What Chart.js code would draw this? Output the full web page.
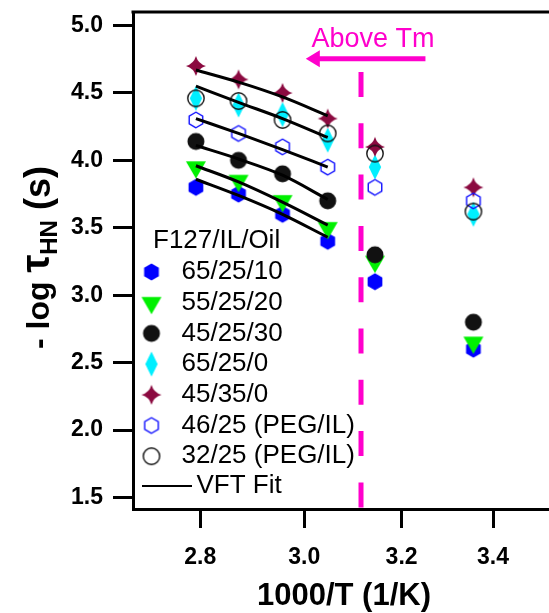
<!DOCTYPE html>
<html>
<head>
<meta charset="utf-8">
<script src="https://cdn.jsdelivr.net/npm/chart.js@4.4.1/dist/chart.umd.min.js"></script>
<style>
  html, body { margin: 0; padding: 0; background: #fff; overflow: hidden; }
  canvas { display: block; }
</style>
</head>
<body>
<canvas id="c" width="560" height="613"></canvas>
<script>
// 1000/T values (1/K) of the measured temperatures
const xVals = [2.792, 2.872, 2.957, 3.047, 3.144, 3.356];
// -log tau_HN (s) per sample
const s65_25_10 = [3.80, 3.75, 3.60, 3.40, 3.10, 2.60];
const s55_25_20 = [3.95, 3.85, 3.70, 3.50, 3.25, 2.65];
const s45_25_30 = [4.14, 4.00, 3.90, 3.70, 3.30, 2.80];
const s65_25_0  = [4.46, 4.41, 4.34, 4.15, 3.95, 3.60];
const s45_35_0  = [4.70, 4.60, 4.50, 4.31, 4.10, 3.80];
const s46_25peg = [4.30, 4.20, 4.10, 3.95, 3.80, 3.70];
const s32_25peg = [4.46, 4.44, 4.30, 4.20, 4.05, 3.62];

// VFT fit curves, read at the first four temperatures
const fitX = [2.792, 2.872, 2.957, 3.047];
const fitStar  = [4.67, 4.58, 4.47, 4.33];
const fitCirc  = [4.55, 4.43, 4.31, 4.17];
const fitHexO  = [4.31, 4.20, 4.08, 3.95];
const fitBlack = [4.11, 4.01, 3.89, 3.71];
const fitTri   = [3.96, 3.84, 3.69, 3.52];
const fitHex   = [3.86, 3.74, 3.60, 3.43];

// melting line and annotation
const tmX = [3.115, 3.115];
const tmY = [4.655, 1.415];
const arrowX = [3.251, 3.003];
const arrowY = 4.753;
const noteX = 3.14, noteY = 4.893;

const xTicks = [2.8, 3.0, 3.2, 3.4];
const yTicks = [1.5, 2.0, 2.5, 3.0, 3.5, 4.0, 4.5, 5.0];

const legendTitle = 'F127/IL/Oil';
const legendLabels = ['65/25/10', '55/25/20', '45/25/30', '65/25/0', '45/35/0', '46/25 (PEG/IL)', '32/25 (PEG/IL)'];

const MAG = '#ff00cc';
const FONT = "'Liberation Sans', Arial, sans-serif";

function marker(w, h, draw) {
  const c = document.createElement('canvas');
  c.width = w; c.height = h;
  const g = c.getContext('2d');
  g.translate(w / 2, h / 2);
  draw(g);
  return c;
}
function hexPath(g, r) {
  g.beginPath();
  for (let i = 0; i < 6; i++) {
    const a = Math.PI / 2 + i * Math.PI / 3;
    g.lineTo(r * Math.cos(a), r * Math.sin(a));
  }
  g.closePath();
}
const mHex = marker(20, 20, g => { hexPath(g, 8.5); g.fillStyle = '#0000ff'; g.fill(); });
const mHexO = marker(20, 20, g => { hexPath(g, 7.8); g.strokeStyle = '#1010ff'; g.lineWidth = 1.4; g.stroke(); });
const mTri = marker(24, 30, g => {
  const s = 20, h = s * Math.sqrt(3) / 2;
  g.beginPath(); g.moveTo(-s / 2, -h / 3); g.lineTo(s / 2, -h / 3); g.lineTo(0, 2 * h / 3); g.closePath();
  g.fillStyle = '#00f000'; g.fill();
});
const mDot = marker(20, 20, g => { g.beginPath(); g.arc(0, 0, 8.5, 0, Math.PI * 2); g.fillStyle = '#111'; g.fill(); });
const mDotO = marker(20, 20, g => { g.beginPath(); g.arc(0, 0, 8.2, 0, Math.PI * 2); g.strokeStyle = '#111'; g.lineWidth = 1.4; g.stroke(); });
const mDia = marker(16, 28, g => {
  g.beginPath(); g.moveTo(0, -12.5); g.lineTo(6.2, 0); g.lineTo(0, 12.5); g.lineTo(-6.2, 0); g.closePath();
  g.fillStyle = '#00efff'; g.fill();
});
const mStar = marker(24, 24, g => {
  const R = 10, c = 2.2;
  g.beginPath();
  g.moveTo(0, -R);
  g.quadraticCurveTo(c, -c, R, 0);
  g.quadraticCurveTo(c, c, 0, R);
  g.quadraticCurveTo(-c, c, -R, 0);
  g.quadraticCurveTo(-c, -c, 0, -R);
  g.closePath(); g.fillStyle = '#8b0a40'; g.fill();
});
const legendMarkers = [mHex, mTri, mDot, mDia, mStar, mHexO, mDotO];

function pts(xs, ys) { return xs.map((x, i) => ({ x: x, y: ys[i] })); }
function fit(ys) {
  return { data: pts(fitX, ys), showLine: true, borderColor: '#000', borderWidth: 3,
           pointRadius: 0, cubicInterpolationMode: 'monotone' };
}
function sym(ys, style) {
  return { data: pts(xVals, ys), pointStyle: style, pointRadius: 9, showLine: false };
}

const overlay = {
  id: 'overlay',
  afterDraw(chart) {
    const ctx = chart.ctx, a = chart.chartArea;
    const xs = chart.scales.x, ys = chart.scales.y;
    ctx.save();
    ctx.setLineDash([]);
    // top frame
    ctx.strokeStyle = '#000'; ctx.lineWidth = 3;
    ctx.beginPath(); ctx.moveTo(a.left - 1.5, a.top); ctx.lineTo(a.right + 10, a.top); ctx.stroke();

    // arrow + note
    const x0 = xs.getPixelForValue(arrowX[0]), x1 = xs.getPixelForValue(arrowX[1]);
    const ay = ys.getPixelForValue(arrowY);
    ctx.strokeStyle = MAG; ctx.fillStyle = MAG; ctx.lineWidth = 5;
    ctx.beginPath(); ctx.moveTo(x0, ay); ctx.lineTo(x1 + 12, ay); ctx.stroke();
    ctx.beginPath(); ctx.moveTo(x1, ay); ctx.lineTo(x1 + 14, ay - 8.5); ctx.lineTo(x1 + 14, ay + 8.5); ctx.closePath(); ctx.fill();
    ctx.font = '27px ' + FONT; ctx.textAlign = 'center'; ctx.textBaseline = 'middle';
    ctx.fillText('Above Tm', xs.getPixelForValue(noteX), ys.getPixelForValue(noteY));

    // legend
    ctx.font = '26px ' + FONT;
    ctx.fillStyle = '#000'; ctx.textAlign = 'left';
    ctx.fillText(legendTitle, 153, 241);
    legendLabels.forEach((t, i) => {
      const y = 272 + i * 30.7;
      const m = legendMarkers[i];
      ctx.drawImage(m, 151.5 - m.width / 2, y - m.height / 2);
      ctx.fillText(t, 181.5, y);
    });
    const ly = 272 + 7 * 30.7 - 1;
    ctx.strokeStyle = '#000'; ctx.lineWidth = 2;
    ctx.beginPath(); ctx.moveTo(142, ly); ctx.lineTo(192, ly); ctx.stroke();
    ctx.fillText('VFT Fit', 196.5, ly);

    // axis titles
    ctx.font = 'bold 31px ' + FONT; ctx.textAlign = 'center';
    ctx.fillText('1000/T (1/K)', 344, 596);
    ctx.translate(38, 349); ctx.rotate(-Math.PI / 2);
    ctx.textAlign = 'left'; ctx.textBaseline = 'alphabetic';
    const parts = [
      ['- log ', 'bold 32px ', 11],
      ['\u03C4', 'bold 40px ', 11],
      ['HN', 'bold 24px ', 19],
      [' (s)', 'bold 36px ', 12]
    ];
    let sx = 0;
    parts.forEach(p => {
      ctx.font = p[1] + FONT;
      ctx.fillText(p[0], sx, p[2]);
      sx += ctx.measureText(p[0]).width;
    });
    ctx.restore();
  }
};

new Chart(document.getElementById('c'), {
  type: 'scatter',
  data: {
    datasets: [
      fit(fitStar), fit(fitCirc), fit(fitHexO), fit(fitBlack), fit(fitTri), fit(fitHex),
      sym(s32_25peg, mDotO),
      sym(s46_25peg, mHexO),
      sym(s45_35_0, mStar),
      sym(s65_25_0, mDia),
      sym(s45_25_30, mDot),
      sym(s55_25_20, mTri),
      sym(s65_25_10, mHex),
      { data: pts(tmX, tmY), showLine: true, borderColor: MAG, borderWidth: 5,
        borderDash: [25, 26.3], pointRadius: 0 }
    ]
  },
  options: {
    responsive: false,
    animation: false,
    layout: { padding: { top: 12, right: 4, left: 0, bottom: 0 } },
    plugins: { legend: { display: false }, tooltip: { enabled: false } },
    scales: {
      x: {
        type: 'logarithmic', min: 2.6779, max: 3.5309, bounds: 'data',
        afterBuildTicks: s => { s.ticks = xTicks.map(v => ({ value: v })); },
        afterFit: s => { s.height = 104; s.paddingLeft = 0; s.paddingRight = 0; },
        border: { display: true, color: '#000', width: 3 },
        grid: { drawOnChartArea: false, drawTicks: true, tickLength: 19, tickWidth: 3, tickColor: '#000', color: '#000' },
        ticks: { color: '#000', padding: 16, maxRotation: 0, autoSkip: false,
                 font: { family: FONT, size: 23, weight: 'bold' },
                 callback: v => Number(v).toFixed(1) }
      },
      y: {
        min: 1.415, max: 5.1, bounds: 'data',
        afterBuildTicks: s => { s.ticks = yTicks.map(v => ({ value: v })); },
        afterFit: s => { s.width = 133; s.paddingTop = 0; s.paddingBottom = 0; },
        border: { display: true, color: '#000', width: 3 },
        grid: { drawOnChartArea: false, drawTicks: true, tickLength: 20, tickWidth: 3, tickColor: '#000', color: '#000' },
        ticks: { color: '#000', padding: 10,
                 font: { family: FONT, size: 23, weight: 'bold' },
                 callback: v => Number(v).toFixed(1) }
      }
    }
  },
  plugins: [overlay]
});
</script>
</body>
</html>
